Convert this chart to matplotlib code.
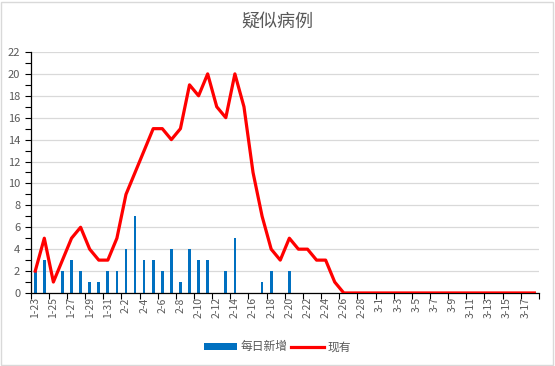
import matplotlib.pyplot as plt
import matplotlib.ticker as mticker
from matplotlib.patches import Rectangle
import numpy as np

plt.rcParams['font.family'] = ['Noto Sans CJK SC', 'DejaVu Sans']

# dates 1-23 .. 3-18 (2020)
dates = ['1-%d' % d for d in range(23, 32)] + ['2-%d' % d for d in range(1, 30)] + ['3-%d' % d for d in range(1, 19)]

# 每日新增
daily_new = [2, 3, 0, 2, 3, 2, 1, 1, 2,
             2, 4, 7, 3, 3, 2, 4, 1, 4, 3, 3, 0, 2, 5, 0, 0, 1, 2, 0, 2, 0, 0, 0, 0, 0, 0, 0, 0, 0,
             0, 0, 0, 0, 0, 0, 0, 0, 0, 0, 0, 0, 0, 0, 0, 0, 0, 0]
# 现有
current = [2, 5, 1, 3, 5, 6, 4, 3, 3,
           5, 9, 11, 13, 15, 15, 14, 15, 19, 18, 20, 17, 16, 20, 17, 11, 7, 4, 3, 5, 4, 4, 3, 3, 1, 0, 0, 0, 0,
           0, 0, 0, 0, 0, 0, 0, 0, 0, 0, 0, 0, 0, 0, 0, 0, 0, 0]

grey = '#595959'
x = np.arange(len(dates))

fig = plt.figure(figsize=(5.55, 3.66), dpi=100)
ax = fig.add_axes([0.0553, 0.1995, 0.9157, 0.6585])

bars = ax.bar(x, daily_new, width=0.3, color='#0070C0', label='每日新增', zorder=2)
line, = ax.plot(x, current, color='#FF0000', lw=2.3, label='现有', zorder=3)

ax.set_xlim(-0.5, len(dates) - 0.5)
ax.set_ylim(0, 22)
ax.yaxis.set_major_locator(mticker.MultipleLocator(2))
ax.yaxis.set_minor_locator(mticker.MultipleLocator(1))
ax.grid(axis='y', color='#d9d9d9', lw=0.9, zorder=0)

# label every other category, tick marks at category boundaries
ax.set_xticks(x[::2])
ax.set_xticklabels(dates[::2], rotation=90)
ax.set_xticks(np.arange(-0.5, len(dates), 2), minor=True)
ax.tick_params(axis='x', which='major', length=0, pad=3, labelsize=7.5, labelcolor=grey)
ax.tick_params(axis='x', which='minor', length=4, width=0.8, color='black')
ax.tick_params(axis='y', which='both', length=4, width=0.8, color='black', labelsize=8, labelcolor=grey)

for s in ['top', 'right']:
    ax.spines[s].set_visible(False)
for s in ['left', 'bottom']:
    ax.spines[s].set_color('black')
    ax.spines[s].set_linewidth(0.9)

fig.text(0.5, 0.94, '疑似病例', ha='center', va='center', fontsize=13, color=grey)

leg = fig.legend([bars, line], ['每日新增', '现有'], loc='center', bbox_to_anchor=(0.5, 0.052),
                 ncol=2, frameon=False, fontsize=8.5, handlelength=2.8, handleheight=0.6,
                 columnspacing=0.3, handletextpad=0.3)
for t in leg.get_texts():
    t.set_color(grey)

fig.patches.append(Rectangle((0.002, 0.004), 0.994, 0.99, transform=fig.transFigure,
                             fill=False, edgecolor='#d9d9d9', lw=1))

fig.savefig('out.png', dpi=100)
